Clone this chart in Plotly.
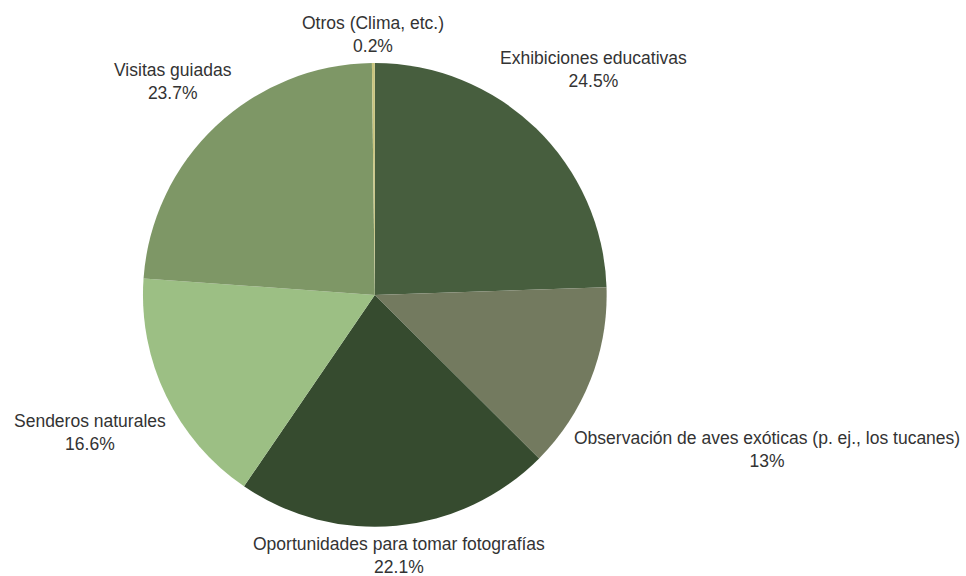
import math
import plotly.graph_objects as go

labels = [
    "Exhibiciones educativas",
    "Observación de aves exóticas (p. ej., los tucanes)",
    "Oportunidades para tomar fotografías",
    "Senderos naturales",
    "Visitas guiadas",
    "Otros (Clima, etc.)",
]
values = [24.5, 13, 22.1, 16.6, 23.7, 0.2]
colors = ["#475e3e", "#737a5f", "#364b2f", "#9cbf84", "#7e9766", "#c8c47e"]

W, H = 966, 576
FONT = "Liberation Sans, Arial, sans-serif"
FSIZE = 17.5
DOM_X = [0.148, 0.628]
DOM_Y = [0.085, 0.891]

# approximate Arial advance widths (em) for label box estimation
WIDTHS = {
    "a": .556, "b": .556, "c": .5, "d": .556, "e": .556, "f": .278, "g": .556,
    "h": .556, "i": .222, "j": .222, "k": .5, "l": .222, "m": .833, "n": .556,
    "o": .556, "p": .556, "q": .556, "r": .333, "s": .5, "t": .278, "u": .556,
    "v": .5, "w": .722, "x": .5, "y": .5, "z": .5, " ": .278, ".": .278,
    ",": .278, "(": .333, ")": .333, "%": .889, "á": .556, "ó": .556, "í": .222,
    "O": .778,
}


def text_width(s):
    return sum(WIDTHS.get(ch, .556 if ch.isdigit() else .667) for ch in s) * FSIZE


def box_dist(cx, cy, hw, hh):
    dx = max(abs(cx) - hw, 0)
    dy = max(abs(cy) - hh, 0)
    return math.hypot(dx, dy)


total = sum(values)
pcts = [f"{v / total * 100:.3g}%" for v in values]

fig = go.Figure(
    go.Pie(
        labels=labels,
        values=values,
        sort=False,
        direction="clockwise",
        rotation=0,
        marker=dict(colors=colors, line=dict(width=0)),
        textinfo="none",
        showlegend=False,
        domain=dict(x=DOM_X, y=DOM_Y),
    )
)

# label placement: box centred on the slice's mid-angle ray, kept a small gap off the rim
cx_px = (DOM_X[0] + DOM_X[1]) / 2 * W
cy_px = (1 - (DOM_Y[0] + DOM_Y[1]) / 2) * H
radius = min((DOM_X[1] - DOM_X[0]) * W, (DOM_Y[1] - DOM_Y[0]) * H) / 2
gap = radius + 8

cum = 0
for lab, v, p in zip(labels, values, pcts):
    mid = (cum + v / 2) / total * 2 * math.pi
    cum += v
    ux, uy = math.sin(mid), -math.cos(mid)
    hw = max(text_width(lab), text_width(p)) / 2
    hh = 21
    lo, hi = 0.0, 1000.0
    for _ in range(60):
        t = (lo + hi) / 2
        if box_dist(t * ux, t * uy, hw, hh) < gap:
            lo = t
        else:
            hi = t
    px = cx_px + t * ux
    py = cy_px + t * uy
    fig.add_annotation(
        x=px / W,
        y=1 - py / H,
        xref="paper",
        yref="paper",
        text=f"{lab}<br>{p}",
        showarrow=False,
        xanchor="center",
        yanchor="middle",
        font=dict(family=FONT, size=FSIZE, color="#333333"),
    )

fig.update_layout(
    width=W,
    height=H,
    margin=dict(l=0, r=0, t=0, b=0),
    paper_bgcolor="white",
    plot_bgcolor="white",
    font=dict(family=FONT, color="#333333"),
)

# drop the default page margin so the 966x576 figure fills the window exactly
fig.write_html(
    "out.html",
    config={"displayModeBar": False},
    post_script="document.body.style.margin = '0';",
)
